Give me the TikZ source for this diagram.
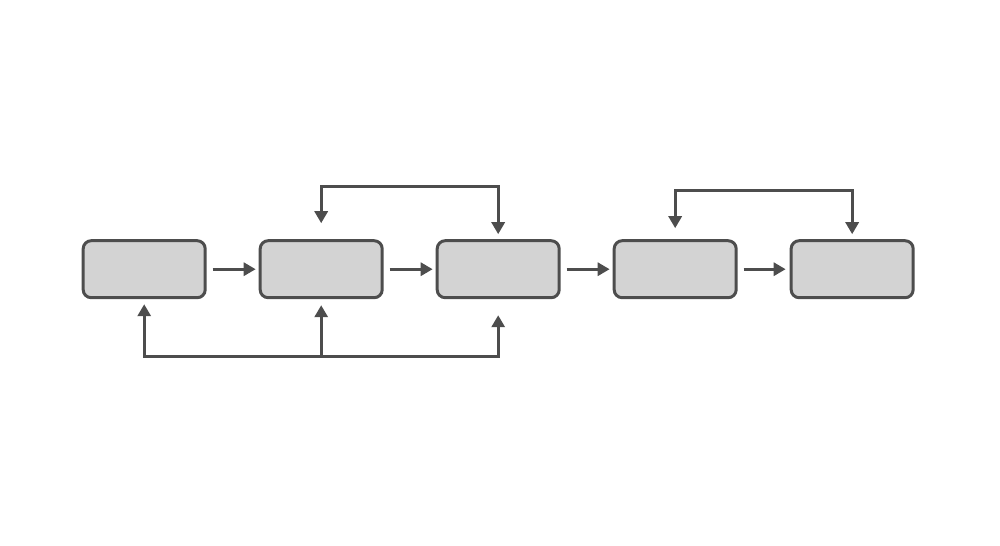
\documentclass[tikz,border=0pt]{standalone}
\usetikzlibrary{arrows.meta,positioning}
\definecolor{boxline}{HTML}{4D4D4D}
\definecolor{boxfill}{HTML}{D3D3D3}

\begin{document}
\begin{tikzpicture}[node distance=0.52cm, line width=0.85pt,
    every node/.style={draw=boxline, fill=boxfill, rounded corners=0.08cm, minimum width=1.22cm, minimum height=0.57cm, inner sep=0pt},
    flow/.style={draw=boxline, -{Triangle[length=0.12cm, width=0.13cm]}},
    loop/.style={draw=boxline, {Triangle[length=0.12cm, width=0.13cm]}-{Triangle[length=0.12cm, width=0.13cm]}}]
    \useasboundingbox (0,0) rectangle (10,-5.45);
    % Boxes in a row
    \node (stagea) at (1.442,-2.692) {};
    \node (stageb) [right=of stagea] {};
    \node (stagec) [right=of stageb] {};
    \node (staged) [right=of stagec] {};
    \node (stagee) [right=of staged] {};

    % Forward arrows
    \draw[flow, shorten <=0.06cm, shorten >=0.03cm] (stagea) -- (stageb);
    \draw[flow, shorten <=0.06cm, shorten >=0.03cm] (stageb) -- (stagec);
    \draw[flow, shorten <=0.06cm, shorten >=0.03cm] (stagec) -- (staged);
    \draw[flow, shorten <=0.06cm, shorten >=0.04cm] (staged) -- (stagee);

    % Loops on top
    \draw[loop, shorten <=0.16cm, shorten >=0.05cm] (stageb.north) -- ([yshift=0.53cm]stageb.north) -| (stagec.north);
    \draw[loop, shorten <=0.11cm, shorten >=0.05cm] (staged.north) -- ([yshift=0.485cm]staged.north) -| (stagee.north);

    % Loop below
    \draw[loop, shorten <=0.05cm, shorten >=0.16cm] (stagea.south) -- ([yshift=-0.57cm]stagea.south) -| (stagec.south);
    \draw[flow, shorten >=0.06cm] ([yshift=-0.57cm]stageb.south) -- (stageb.south);
\end{tikzpicture}
\end{document}
